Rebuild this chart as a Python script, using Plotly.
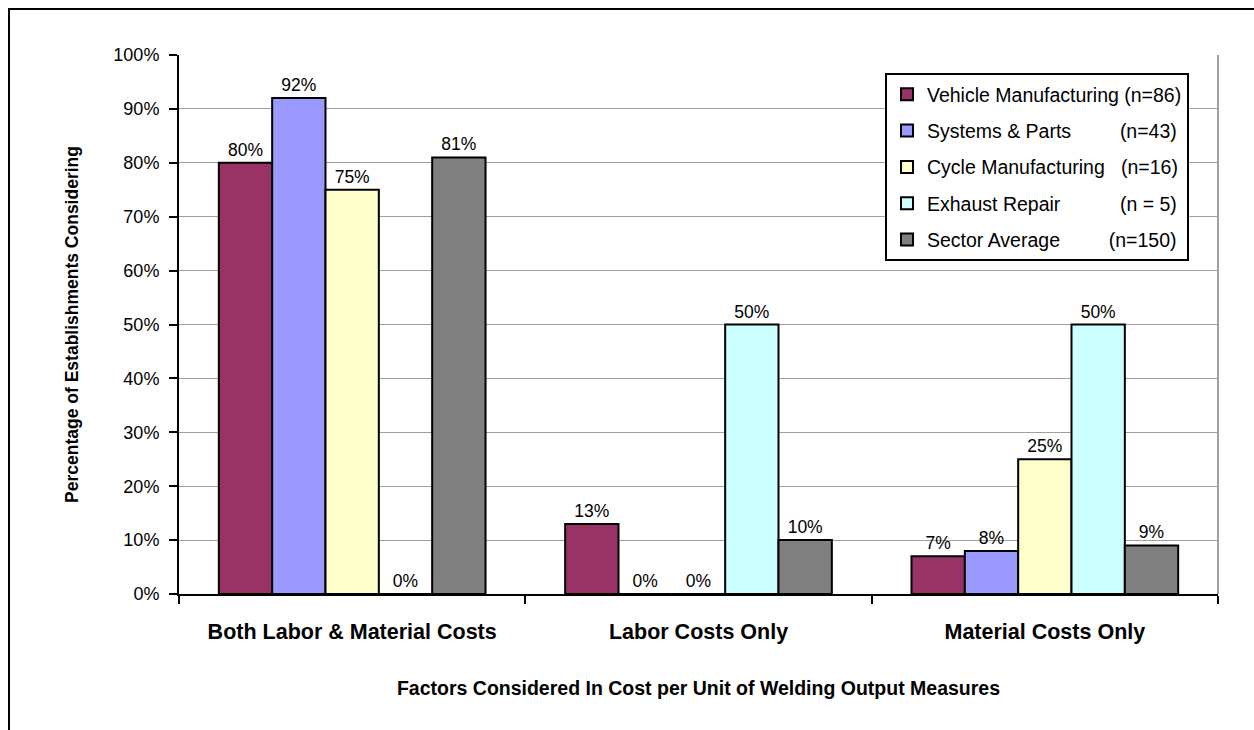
import plotly.graph_objects as go

categories = ["Both Labor & Material Costs", "Labor Costs Only", "Material Costs Only"]
NB = "\u00a0"
series_names = [
    "Vehicle Manufacturing (n=86)",
    "Systems & Parts" + NB * 9 + "(n=43)",
    "Cycle Manufacturing" + NB * 3 + "(n=16)",
    "Exhaust Repair" + NB * 11 + "(n = 5)",
    "Sector Average" + NB * 9 + "(n=150)",
]
vehicle = [80, 13, 7]
systems = [92, 0, 8]
cycle = [75, 0, 25]
exhaust = [0, 50, 50]
sector = [81, 10, 9]
colors = ["#993366", "#9999FF", "#FFFFCC", "#CCFFFF", "#808080"]
y_ticks = list(range(0, 101, 10))
y_tick_labels = [f"{v}%" for v in y_ticks]

fig = go.Figure()
for i, (name, vals, col) in enumerate(zip(series_names, [vehicle, systems, cycle, exhaust, sector], colors)):
    fig.add_trace(go.Bar(
        x=categories, y=vals, name=name, legendgroup=f"g{i}",
        marker=dict(color=col, line=dict(color="black", width=2)),
        text=[f"{v}%" for v in vals], textposition="outside",
        textfont=dict(family="Arial", size=17.5, color="black"),
        cliponaxis=False,
    ))

W, H = 1254, 730
L, R, T, B = 179, 36, 55, 136
pw, ph = W - L - R, H - T - B

fig.update_layout(
    width=W, height=H,
    margin=dict(l=L, r=R, t=T, b=B),
    paper_bgcolor="white", plot_bgcolor="white",
    barmode="group", bargap=0.23, bargroupgap=0,
    font=dict(family="Arial", color="black"),
    showlegend=True,
    legend=dict(
        x=(885 - L) / pw, y=(H - B - 73) / ph, xanchor="left", yanchor="top",
        bordercolor="black", borderwidth=2, bgcolor="white",
        font=dict(family="Arial", size=19.5, color="black"),
        tracegroupgap=8, itemwidth=30,
    ),
    xaxis=dict(
        showline=True, linecolor="black", linewidth=2,
        ticks="outside", tickson="boundaries", ticklen=8, tickcolor="black", tickwidth=2,
        tickfont=dict(family="Arial", size=21.5, color="black", weight="bold"),
        ticklabelstandoff=17,
        title=dict(text="<b>Factors Considered In Cost per Unit of Welding Output Measures</b>",
                   font=dict(family="Arial", size=19.5), standoff=39),
    ),
    yaxis=dict(
        range=[0, 100], tickvals=y_ticks, ticktext=y_tick_labels,
        showline=True, linecolor="black", linewidth=2,
        ticks="outside", ticklen=8, tickcolor="black", tickwidth=2,
        tickfont=dict(family="Arial", size=18, color="black"),
        ticklabelstandoff=6,
        showgrid=True, gridcolor="#A0A0A0", gridwidth=1,
        title=dict(text="<b>Percentage of Establishments Considering</b>",
                   font=dict(family="Arial", size=17.5), standoff=30),
        zeroline=False,
    ),
    shapes=[
        dict(type="line", xref="paper", yref="paper", x0=1, x1=1, y0=0, y1=1,
             line=dict(color="#A0A0A0", width=2)),
        dict(type="rect", xref="paper", yref="paper",
             x0=(9 - L) / pw, x1=(W + 20 - L) / pw,
             y0=-(H + 20 - (H - B)) / ph, y1=1 + (T - 9) / ph,
             line=dict(color="black", width=2), fillcolor="rgba(0,0,0,0)", layer="below"),
    ],
)

fig.write_html("out.html", config={"displayModeBar": False},
               post_script="document.body.style.margin='0';document.body.style.overflow='hidden';")
